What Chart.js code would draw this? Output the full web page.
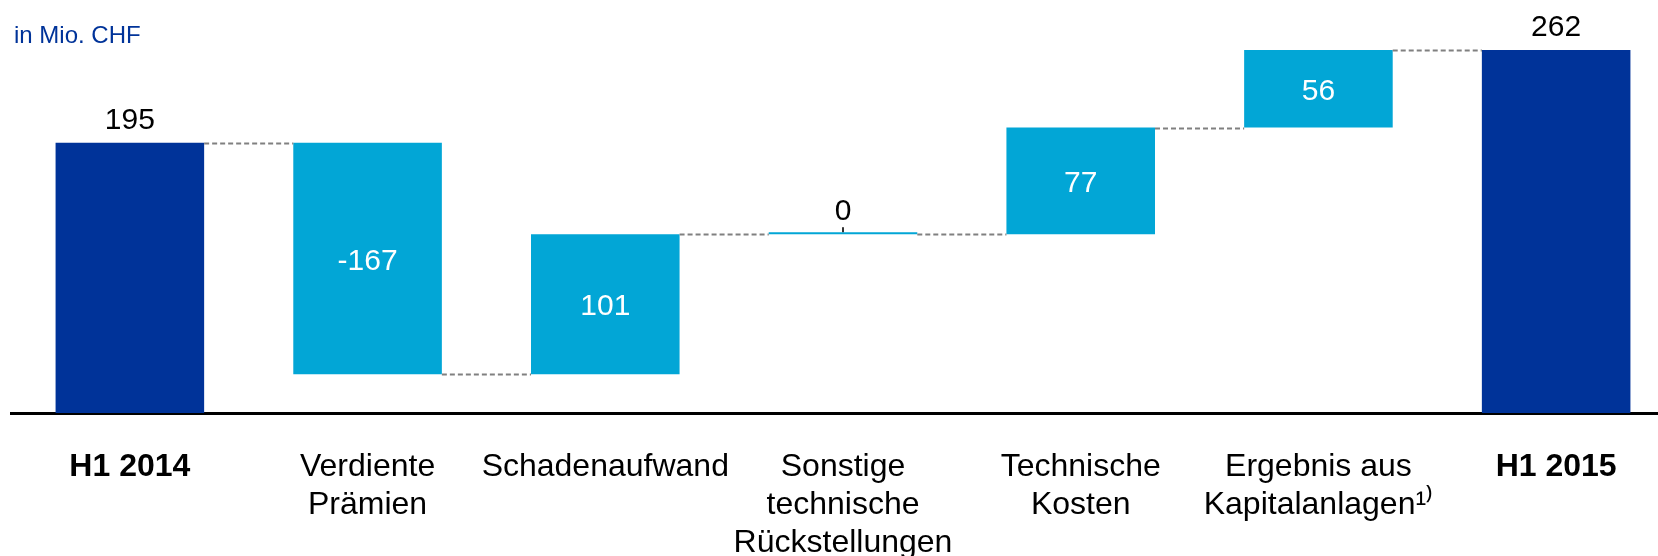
<!DOCTYPE html>
<html>
<head>
<meta charset="utf-8">
<title>Waterfall H1 2014 - H1 2015</title>
<script src="https://cdn.jsdelivr.net/npm/chart.js@4.4.1/dist/chart.umd.min.js"></script>
<style>
    html, body { margin: 0; padding: 0; background: #fff; overflow: hidden; }
    #wrap { width: 1658px; height: 556px; overflow: hidden; }
</style>
</head>
<body>
<div id="wrap"><canvas id="waterfall" width="1675" height="556"></canvas></div>
<script>
// Daten
const categories = ['H1 2014', ['Verdiente', 'Prämien'], 'Schadenaufwand', ['Sonstige', 'technische', 'Rückstellungen'], ['Technische', 'Kosten'], ['Ergebnis aus', 'Kapitalanlagen¹⁾'], 'H1 2015'];
const changes = [195, -167, 101, 0, 77, 56, 262];
const isTotal = [true, false, false, false, false, false, true];
const unitLabel = 'in Mio. CHF';

const FONT = '"Liberation Sans", Arial, sans-serif';
const DARK_BLUE = '#003399';
const LIGHT_BLUE = '#02a6d6';

// Bereiche fuer die schwebenden Balken
const ranges = [];
const levels = [];
let running = 0;
changes.forEach((v, i) => {
    if (isTotal[i]) {
        ranges.push([0, v]);
        running = v;
    } else {
        ranges.push([running, running + v]);
        running += v;
    }
    levels.push(running);
});

const waterfallPlugin = {
    id: 'waterfall',
    afterDatasetsDraw(chart) {
        const ctx = chart.ctx;
        const meta = chart.getDatasetMeta(0);
        const yScale = chart.scales.y;

        // gestrichelte Verbindungslinien
        ctx.save();
        ctx.strokeStyle = '#808080';
        ctx.lineWidth = 2;
        ctx.setLineDash([5, 3]);
        for (let i = 0; i < meta.data.length - 1; i++) {
            const a = meta.data[i];
            const b = meta.data[i + 1];
            const y = Math.round(yScale.getPixelForValue(levels[i])) + 0.5;
            ctx.beginPath();
            ctx.moveTo(a.x + a.width / 2, y);
            ctx.lineTo(b.x - b.width / 2, y);
            ctx.stroke();
        }
        ctx.restore();

        // Werte
        ctx.save();
        ctx.font = '30px ' + FONT;
        ctx.textAlign = 'center';
        ctx.textBaseline = 'middle';
        meta.data.forEach((bar, i) => {
            const top = Math.min(bar.y, bar.base);
            const bottom = Math.max(bar.y, bar.base);
            const text = String(changes[i]);
            if (isTotal[i]) {
                ctx.fillStyle = '#000';
                ctx.fillText(text, bar.x, top - 22);
            } else if (changes[i] === 0) {
                ctx.fillStyle = '#000';
                ctx.fillText(text, bar.x, top - 20);
                ctx.fillStyle = '#333';
                ctx.fillRect(Math.round(bar.x) - 1, top - 5, 2, 5);
            } else {
                ctx.fillStyle = '#fff';
                ctx.fillText(text, bar.x, (top + bottom) / 2 + 3);
            }
        });
        ctx.restore();

        // Einheit
        ctx.save();
        ctx.font = '24px ' + FONT;
        ctx.fillStyle = DARK_BLUE;
        ctx.textAlign = 'left';
        ctx.textBaseline = 'middle';
        ctx.fillText(unitLabel, 14, 36);
        ctx.restore();
    }
};

const ctx = document.getElementById('waterfall').getContext('2d');
new Chart(ctx, {
    type: 'bar',
    data: {
        labels: categories,
        datasets: [{
            data: ranges,
            backgroundColor: isTotal.map(t => t ? DARK_BLUE : LIGHT_BLUE),
            borderWidth: 0,
            borderSkipped: false,
            minBarLength: 2,
            barPercentage: 0.625,
            categoryPercentage: 1
        }]
    },
    options: {
        responsive: false,
        animation: false,
        devicePixelRatio: 1,
        layout: { padding: { left: 11, right: 0, top: 0, bottom: 0 } },
        plugins: {
            legend: { display: false },
            tooltip: { enabled: false }
        },
        scales: {
            x: {
                grid: { display: false, drawTicks: false },
                border: { display: true, color: '#000', width: 3 },
                afterFit: (scale) => { scale.height = 143; },
                ticks: {
                    autoSkip: false,
                    maxRotation: 0,
                    minRotation: 0,
                    padding: 35,
                    color: '#000',
                    font: (c) => ({
                        family: FONT,
                        size: 32,
                        lineHeight: 1.19,
                        weight: (c.index === 0 || c.index === 6) ? 'bold' : 'normal'
                    })
                }
            },
            y: {
                display: false,
                min: 0,
                max: 298
            }
        }
    },
    plugins: [waterfallPlugin]
});
</script>
</body>
</html>
